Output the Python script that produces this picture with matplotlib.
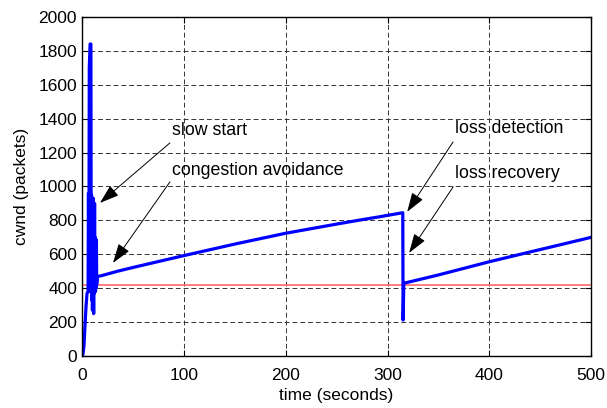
import matplotlib
matplotlib.use('Agg')
import matplotlib.pyplot as plt

plt.rcParams['font.family'] = ['Liberation Sans', 'DejaVu Sans']

# cwnd trace (seconds, packets)
t_slow = [0, 1, 2, 3, 4, 5, 6, 6.4, 6.8, 7.2, 8, 8.8, 9.1, 9.4, 9.7, 10, 10.3, 10.6,
          10.9, 11.2, 11.5, 11.8, 12.1, 12.4, 12.7, 13, 13.3, 13.6, 13.9, 14.2,
          14.5, 14.8, 15]
w_slow = [0, 10, 60, 180, 290, 370, 380, 960, 380, 1700, 1840, 1840, 400, 950, 330,
          920, 270, 900, 380, 930, 250, 880, 370, 900, 400, 700, 380, 690, 400, 680,
          420, 450, 468]
t_avoid = [20, 35, 50, 100, 150, 200, 250, 273, 293, 315]
w_avoid = [475, 500, 522, 592, 660, 724, 778, 802, 822, 845]
t_loss = [315.3, 315.6, 316]
w_loss = [212, 300, 429]
t_recov = [350, 400, 450, 489, 500]
w_recov = [478, 556, 628, 684, 700]
threshold = 420

t = t_slow + t_avoid + t_loss + t_recov
w = w_slow + w_avoid + w_loss + w_recov

fig = plt.figure(figsize=(6.07, 4.08), dpi=100)
ax = fig.add_axes([0.135, 0.1275, 0.839, 0.831])

ax.axhline(threshold, color='#ff6a6a', lw=1.2)
ax.plot(t, w, color='#0000ff', lw=2.3)

ax.set_xlim(0, 500)
ax.set_ylim(0, 2000)
ax.set_xticks(range(0, 501, 100))
ax.set_yticks(range(0, 2001, 200))
ax.grid(True, color='#333333', lw=0.7, linestyle=(0, (5, 3)))
ax.tick_params(direction='in', length=4, top=True, right=True, labelsize=12.5)
ax.tick_params(axis='x', pad=8.5)
for s in ax.spines.values():
    s.set_linewidth(1.0)
ax.set_xlabel('time (seconds)', fontsize=12.5, labelpad=4)
ax.set_ylabel('cwnd (packets)', fontsize=12.5, labelpad=7)

arrow = dict(arrowstyle='-|>,head_length=1.2,head_width=0.4', color='black',
             lw=0.7, shrinkA=0, shrinkB=0)
notes = [
    ('slow start', (88.4, 1333), (86.4, 1257), (17.7, 903)),
    ('congestion avoidance', (88.4, 1097), (86.4, 1027), (30.5, 549)),
    ('loss detection', (366.4, 1339), (364.4, 1263), (319.3, 850)),
    ('loss recovery', (366.4, 1074), (364.4, 997), (321.2, 608)),
]
for label, pos, tail, head in notes:
    ax.text(pos[0], pos[1], label, fontsize=12.8, va='center', ha='left')
    ax.annotate('', xy=head, xytext=tail, arrowprops=arrow)

fig.savefig('out.png', dpi=100)
